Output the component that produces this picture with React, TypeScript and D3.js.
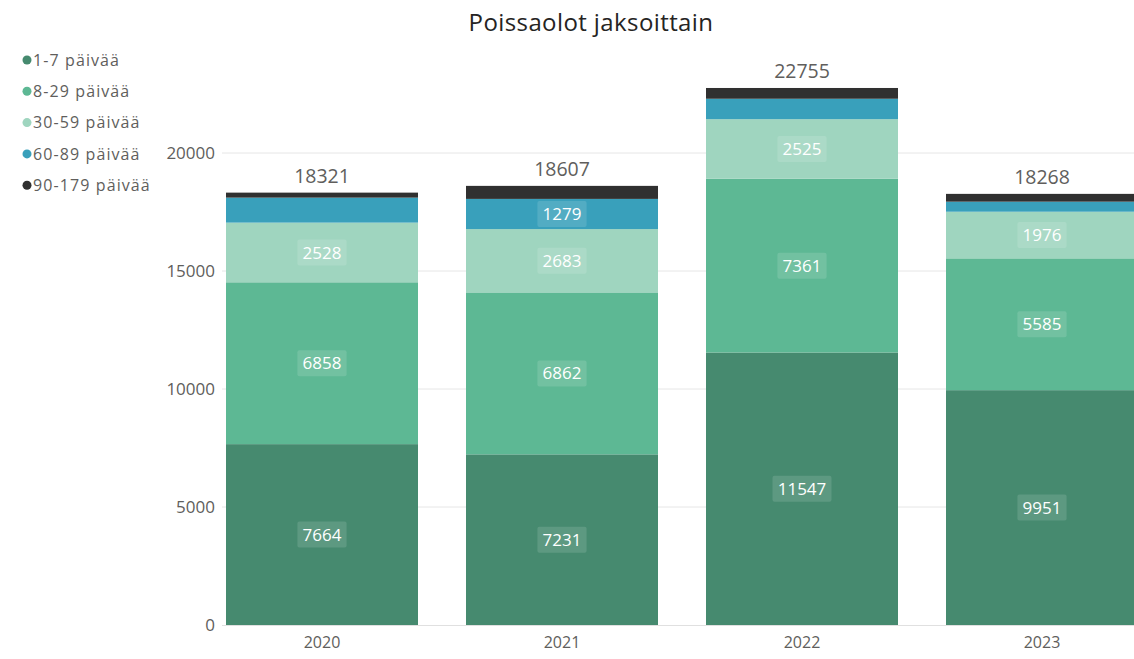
import React from "react";
import * as d3 from "d3";

const years = ["2020", "2021", "2022", "2023"];
const seriesNames = ["1-7 päivää", "8-29 päivää", "30-59 päivää", "60-89 päivää", "90-179 päivää"];
const seriesColors = ["#468a6f", "#5db894", "#9fd5bf", "#39a0bb", "#303030"];
const v1to7 = [7664, 7231, 11547, 9951];
const v8to29 = [6858, 6862, 7361, 5585];
const v30to59 = [2528, 2683, 2525, 1976];
const v60to89 = [1059, 1279, 866, 426];
const v90to179 = [212, 552, 456, 330];
const totals = [18321, 18607, 22755, 18268];
const yTicks = [0, 5000, 10000, 15000, 20000];

const W = 1134;
const H = 659;

export default function App() {
  const series = [v1to7, v8to29, v30to59, v60to89, v90to179];
  const x = d3.scaleBand<string>().domain(years).range([202, 1162]).paddingInner(0.2).paddingOuter(0.1);
  const y = d3.scaleLinear().domain([0, 20000]).range([625, 153]);
  const rows = years.map((yr, i) => {
    const r: any = { year: yr };
    seriesNames.forEach((s, j) => (r[s] = series[j][i]));
    return r;
  });
  const stack = d3.stack<any>().keys(seriesNames)(rows);
  const font = "'Open Sans', 'Noto Sans', sans-serif";

  return (
    <svg width={W} height={H} style={{ position: "absolute", left: 0, top: 0, background: "#fff" }} fontFamily={font}>
      <text x={591} y={31} textAnchor="middle" fontSize={24} letterSpacing={0.4} fill="#252423">Poissaolot jaksoittain</text>
      {yTicks.map((t) => (
        <g key={t}>
          {t > 0 && <line x1={222} x2={W} y1={y(t)} y2={y(t)} stroke="#e6e6e6" strokeWidth={1} />}
          <text x={215} y={y(t)} dy="0.35em" textAnchor="end" fontSize={17} fill="#605e5c">{t}</text>
        </g>
      ))}
      <line x1={222} x2={W} y1={y(0) + 0.5} y2={y(0) + 0.5} stroke="#e0e0e0" strokeWidth={1} />
      {stack.map((layer, j) => (
        <g key={j}>
          {layer.map((d, i) => {
            const y0 = y(d[0]);
            const y1 = y(d[1]);
            const h = y0 - y1;
            const cx = (x(years[i]) as number) + x.bandwidth() / 2;
            const cy = (y0 + y1) / 2;
            const val = series[j][i];
            const showLabel = j < 4 && h >= 28;
            const label = String(val);
            const lw = label.length * 9.8 + 10;
            return (
              <g key={i}>
                <rect x={x(years[i])} y={y1} width={x.bandwidth()} height={h} fill={seriesColors[j]} />
                {showLabel && (
                  <g>
                    <rect x={cx - lw / 2} y={cy - 13} width={lw} height={26} rx={2} fill="#ffffff" fillOpacity={0.13} />
                    <text x={cx} y={cy} dy="0.36em" textAnchor="middle" fontSize={17} fill="#ffffff">{label}</text>
                  </g>
                )}
              </g>
            );
          })}
        </g>
      ))}
      {years.map((yr, i) => (
        <g key={yr}>
          <text x={(x(yr) as number) + x.bandwidth() / 2} y={y(totals[i]) - 10} textAnchor="middle" fontSize={19.5} fill="#605e5c">{totals[i]}</text>
          <text x={(x(yr) as number) + x.bandwidth() / 2} y={648} textAnchor="middle" fontSize={16} fill="#605e5c">{yr}</text>
        </g>
      ))}
      {seriesNames.map((s, j) => (
        <g key={s}>
          <circle cx={27} cy={60 + j * 31.3} r={4.5} fill={seriesColors[j]} />
          <text x={33} y={60 + j * 31.3} dy="0.35em" fontSize={16} letterSpacing={1.1} fill="#605e5c">{s}</text>
        </g>
      ))}
    </svg>
  );
}
